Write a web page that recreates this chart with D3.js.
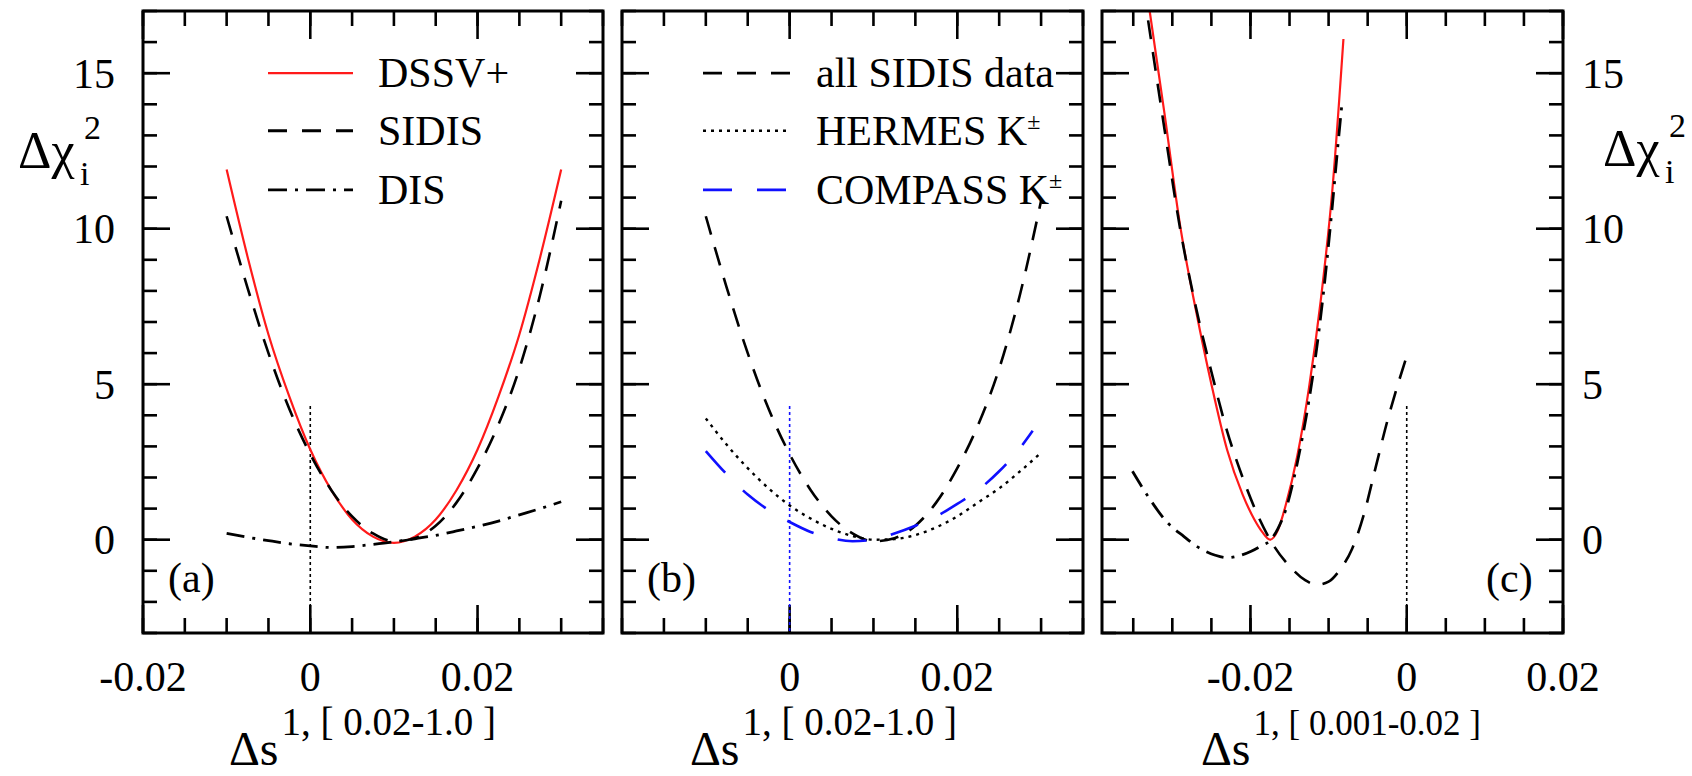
<!DOCTYPE html>
<html>
<head>
<meta charset="utf-8">
<script src="https://cdn.jsdelivr.net/npm/d3@7"></script>
<style>
  body { margin: 0; background: #fff; }
  svg text { font-family: "Liberation Serif", "DejaVu Serif", "Times New Roman", Times, serif; fill: #000; }
</style>
</head>
<body>
<svg id="chart" width="1692" height="776"></svg>
<script>
// ---- data ----
// panels (a) and (b) share the same x grid
const xsAB = [-0.01,-0.0075,-0.005,-0.0025,0,0.0025,0.005,0.0075,0.01,0.0125,0.015,0.0175,0.02,0.0225,0.025,0.0275,0.03];
const dssvA   = [11.9,9.1,6.6,4.6,2.9,1.6,0.65,0.1,-0.1,0.1,0.65,1.6,2.9,4.6,6.6,9.1,11.9];
const sidisA  = [10.4,8.1,6.0,4.2,2.75,1.6,0.75,0.2,-0.05,0.05,0.45,1.2,2.3,3.7,5.5,7.9,10.9];
const disA    = [0.2,0.08,-0.03,-0.13,-0.2,-0.25,-0.22,-0.15,-0.07,0.03,0.14,0.28,0.43,0.6,0.8,1.0,1.22];
const hermesB = [3.9,3.05,2.3,1.65,1.1,0.68,0.35,0.12,0.0,0.02,0.15,0.4,0.75,1.2,1.65,2.2,2.8];
const compassX = [-0.01,-0.0075,-0.005,-0.0025,0,0.0025,0.005,0.0075,0.01,0.0125,0.015,0.0175,0.02,0.0225,0.025,0.0275,0.029];
const compassB = [2.85,2.1,1.45,0.95,0.57,0.25,0.05,-0.05,0.0,0.2,0.45,0.75,1.15,1.6,2.2,2.95,3.5];

// panel (c)
const dssvCx  = [-0.0329,-0.031,-0.029,-0.027,-0.025,-0.023,-0.021,-0.0195,-0.0185,-0.0175,-0.0165,-0.0155,-0.014,-0.0125,-0.011,-0.0095,-0.0081];
const dssvC   = [17.0,13.7,10.1,7.4,5.0,2.9,1.45,0.65,0.25,0.0,0.3,1.1,2.7,4.9,7.7,11.3,16.1];
const sidisCx = [-0.0331,-0.031,-0.029,-0.027,-0.025,-0.023,-0.021,-0.019,-0.017,-0.015,-0.013,-0.0115,-0.01,-0.0085,-0.007,-0.0055,-0.004,-0.0025,-0.001,0.0];
const sidisC  = [16.7,13.2,10.0,7.5,5.4,3.5,2.0,0.75,-0.2,-0.85,-1.3,-1.45,-1.35,-0.95,-0.3,0.8,2.3,3.8,5.1,5.9];
const disCx   = [-0.0351,-0.033,-0.0307,-0.0285,-0.0267,-0.0245,-0.023,-0.0215,-0.0199,-0.0185,-0.0175,-0.0165,-0.0155,-0.0145,-0.0135,-0.0125,-0.0115,-0.0105,-0.0095,-0.0088,-0.0083];
const disC    = [2.2,1.35,0.57,0.1,-0.24,-0.5,-0.58,-0.52,-0.37,-0.18,-0.03,0.35,0.95,1.9,3.1,4.5,6.2,8.3,10.8,12.7,14.0];

// axes
const yDomain = [-3, 17];
const yMajor = [0, 5, 10, 15];
const yMinor = d3.range(-3, 18, 1);
const xMajorA = [-0.02, 0, 0.02];
const xMajorB = [0, 0.02];
const xMajorC = [-0.02, 0, 0.02];
const xMinorAll = d3.range(-0.04, 0.0401, 0.005).map(d => +d.toFixed(3));

const legendA = ["DSSV+", "SIDIS", "DIS"];
const legendB = ["all SIDIS data", "HERMES K", "COMPASS K"];
const titles = ["0.02-1.0", "0.02-1.0", "0.001-0.02"];
const tags = ["(a)", "(b)", "(c)"];

// ---- styles ----
const FONT = '"Liberation Serif", "DejaVu Serif", serif';
const RED = "#ff1a1a", BLUE = "#1010ff";
const DASH = "19,13", DASHDOT = "18,8,3,8", DOT = "3,5", LONG = "29,25";

const svg = d3.select("#chart").attr("font-family", FONT);
const plotTop = 11, plotBottom = 633;
const y = d3.scaleLinear().domain(yDomain).range([plotBottom, plotTop]);

const panels = [
  { left: 143, right: 603, dom: [-0.02, 0.035], major: xMajorA, ylab: "left", vcol: "#000", tx: 229, sup: 39,
    series: [
      { x: xsAB, y: dssvA, color: RED, dash: null, w: 2.2 },
      { x: xsAB, y: sidisA, color: "#000", dash: DASH, w: 2.6 },
      { x: xsAB, y: disA, color: "#000", dash: DASHDOT, w: 2.8 }
    ] },
  { left: 622, right: 1083, dom: [-0.02, 0.035], major: xMajorB, ylab: null, vcol: BLUE, tx: 690, sup: 39,
    series: [
      { x: xsAB, y: sidisA, color: "#000", dash: DASH, w: 2.6 },
      { x: xsAB, y: hermesB, color: "#000", dash: DOT, w: 2.4 },
      { x: compassX, y: compassB, color: BLUE, dash: LONG, w: 2.6 }
    ] },
  { left: 1102, right: 1563, dom: [-0.039, 0.02], major: xMajorC, ylab: "right", vcol: "#000", tx: 1201, sup: 35,
    series: [
      { x: dssvCx, y: dssvC, color: RED, dash: null, w: 2.2 },
      { x: sidisCx, y: sidisC, color: "#000", dash: DASH, w: 2.6 },
      { x: disCx, y: disC, color: "#000", dash: DASHDOT, w: 2.8 }
    ] }
];

const fmt = d => String(+d.toFixed(2));

panels.forEach((p, i) => {
  const x = d3.scaleLinear().domain(p.dom).range([p.left, p.right]);
  const g = svg.append("g");
  const minor = xMinorAll.filter(d => d >= p.dom[0] - 1e-9 && d <= p.dom[1] + 1e-9);

  g.append("clipPath").attr("id", "clip" + i).append("rect")
    .attr("x", p.left).attr("y", plotTop).attr("width", p.right - p.left).attr("height", plotBottom - plotTop);

  // x ticks, bottom and top
  const tick = (vals, len, side) => g.selectAll(null).data(vals).join("line")
    .attr("x1", d => x(d)).attr("x2", d => x(d))
    .attr("y1", side === "b" ? plotBottom : plotTop).attr("y2", side === "b" ? plotBottom - len : plotTop + len)
    .attr("stroke", "#000").attr("stroke-width", 2.6);
  tick(minor, 15, "b"); tick(minor, 15, "t");
  tick(p.major, 28, "b"); tick(p.major, 28, "t");

  // y ticks, both sides
  const ytick = (vals, len) => {
    g.selectAll(null).data(vals).join("line")
      .attr("x1", p.left).attr("x2", p.left + len).attr("y1", d => y(d)).attr("y2", d => y(d))
      .attr("stroke", "#000").attr("stroke-width", 2.6);
    g.selectAll(null).data(vals).join("line")
      .attr("x1", p.right).attr("x2", p.right - len).attr("y1", d => y(d)).attr("y2", d => y(d))
      .attr("stroke", "#000").attr("stroke-width", 2.6);
  };
  ytick(yMinor, 14); ytick(yMajor, 27);

  // x tick labels
  g.selectAll(null).data(p.major).join("text")
    .attr("x", d => x(d)).attr("y", 691).attr("text-anchor", "middle")
    .attr("font-size", 42).text(fmt);

  // y tick labels
  if (p.ylab) {
    g.selectAll(null).data(yMajor).join("text")
      .attr("x", p.ylab === "left" ? p.left - 28 : p.right + 19)
      .attr("y", d => y(d)).attr("dy", "0.35em")
      .attr("text-anchor", p.ylab === "left" ? "end" : "start")
      .attr("font-size", 42).text(d => d);
  }

  // vertical dotted marker at 0
  g.append("line").attr("x1", x(0)).attr("x2", x(0)).attr("y1", y(4.3)).attr("y2", plotBottom)
    .attr("stroke", p.vcol).attr("stroke-width", 1.6).attr("stroke-dasharray", "3,3");

  // curves
  const line = d3.line().x(d => x(d[0])).y(d => y(d[1])).curve(d3.curveMonotoneX);
  p.series.forEach(s => {
    g.append("path").attr("d", line(s.x.map((v, k) => [v, s.y[k]])))
      .attr("clip-path", `url(#clip${i})`)
      .attr("fill", "none").attr("stroke", s.color).attr("stroke-width", s.w)
      .attr("stroke-dasharray", s.dash);
  });

  // frame
  g.append("rect").attr("x", p.left).attr("y", plotTop).attr("width", p.right - p.left)
    .attr("height", plotBottom - plotTop).attr("fill", "none").attr("stroke", "#000").attr("stroke-width", 3);

  // panel tag
  g.append("text").attr("x", i === 2 ? p.right - 77 : p.left + 25)
    .attr("y", 592).attr("font-size", 42).text(tags[i]);

  // x title
  const t = g.append("text").attr("x", p.tx).attr("y", 765).attr("font-size", 48);
  t.append("tspan").text("Δs");
  t.append("tspan").attr("dx", 3).attr("dy", -30).attr("font-size", p.sup).text(`1, [ ${titles[i]} ]`);
});

// y titles
[[18, 168], [1603, 166]].forEach(([lx, ly]) => {
  svg.append("text").attr("x", lx).attr("y", ly).attr("font-size", 52).text("Δχ");
  svg.append("text").attr("x", lx + 66).attr("y", ly - 29).attr("font-size", 34).text("2");
  svg.append("text").attr("x", lx + 62).attr("y", ly + 17).attr("font-size", 34).text("i");
});

// legends
const legY = [y(15), y(13.15), y(11.25)];
const legA = [{ c: RED, d: null, w: 2.2 }, { c: "#000", d: "19,15", w: 2.8 }, { c: "#000", d: "19,8,3,8", w: 2.8 }];
const legB = [{ c: "#000", d: "19,15", w: 2.8 }, { c: "#000", d: DOT, w: 2.4 }, { c: BLUE, d: LONG, w: 2.8 }];
const drawLegend = (names, sty, x0, x1, tx, sup) => {
  names.forEach((n, k) => {
    svg.append("line").attr("x1", x0).attr("x2", x1).attr("y1", legY[k]).attr("y2", legY[k])
      .attr("stroke", sty[k].c).attr("stroke-width", sty[k].w).attr("stroke-dasharray", sty[k].d);
    const t = svg.append("text").attr("x", tx).attr("y", legY[k] + 14).attr("font-size", 42).text(n);
    if (sup && k > 0) t.append("tspan").attr("dy", -16).attr("font-size", 24).text("±");
  });
};
drawLegend(legendA, legA, 268, 353, 378, false);
drawLegend(legendB, legB, 703, 790, 816, true);
</script>
</body>
</html>
